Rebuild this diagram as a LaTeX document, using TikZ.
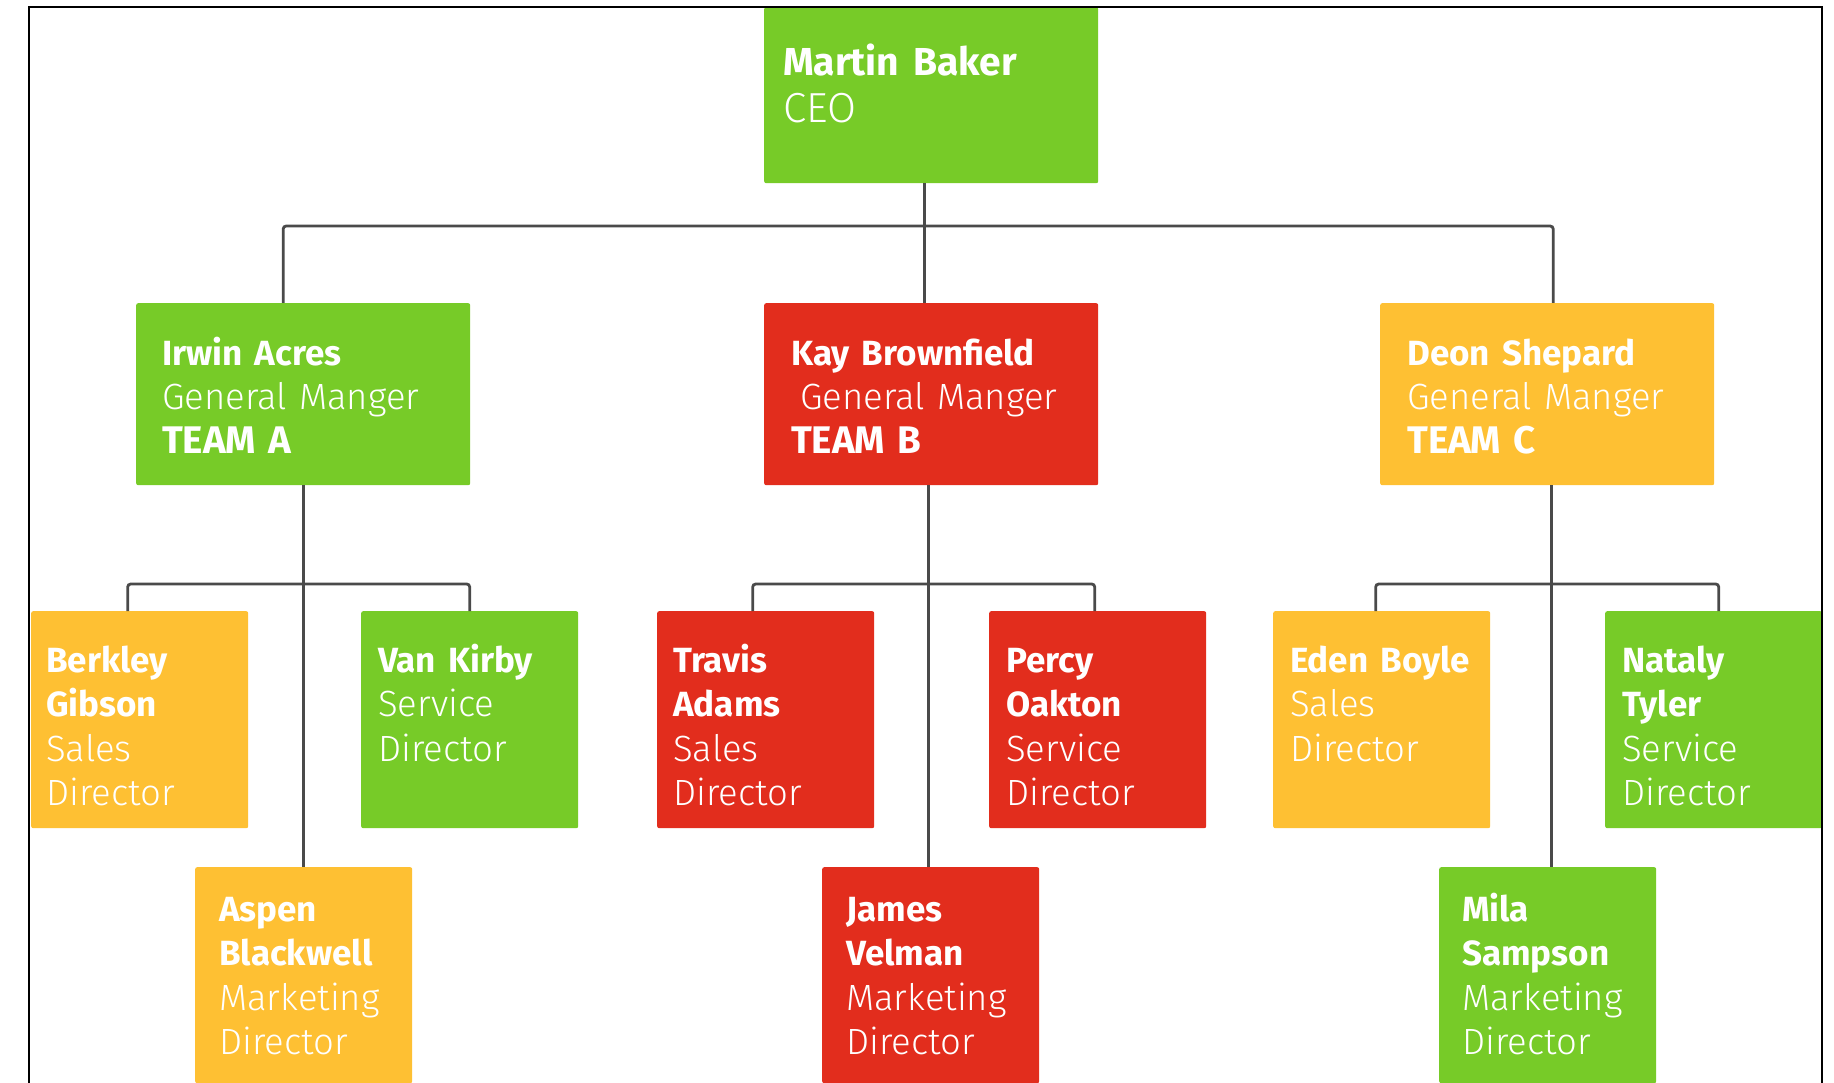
\documentclass[tikz,border=0pt]{standalone}
\usepackage{fontspec}
\setmainfont{Fira Sans}
\newfontfamily\lightf{Fira Sans Light}
\usetikzlibrary{positioning}
\definecolor{cgreen}{HTML}{77CB28}
\definecolor{cred}{HTML}{E22D1D}
\definecolor{cyellow}{HTML}{FEC033}
\definecolor{cline}{HTML}{4A4A4A}
\newcommand\nm[1]{{\normalfont\bfseries\fontsize{35}{44.5}\selectfont #1}}
\newcommand\tm[1]{{\normalfont\bfseries\fontsize{38.5}{44.5}\selectfont #1}}
\tikzset{
  box/.style={draw=none, rounded corners=2pt, inner sep=0pt, anchor=north west},
  lvla/.style={box, minimum width=334pt, minimum height=176pt},
  lvlb/.style={box, minimum width=334pt, minimum height=182pt},
  lvlc/.style={box, minimum width=217pt, minimum height=217pt},
  lvld/.style={box, minimum width=217pt, minimum height=216pt},
  txt/.style={anchor=base west, inner sep=0pt, align=left, text width=320pt, text=white,
    font=\lightf\fontsize{36.5}{44.5}\selectfont},
  bigtxt/.style={txt, font=\lightf\fontsize{42}{47}\selectfont},
  conn/.style={draw=cline, line width=2.8pt, rounded corners=3pt},
}
\begin{document}
\begin{tikzpicture}[x=1pt, y=-1pt]
\useasboundingbox (0,0) rectangle (1834,1083);
% boxes
\node[lvla, fill=cgreen] (ceo) at (764,7) {};
\node[lvlb, fill=cgreen] (irwin) at (136,303) {};
\node[lvlb, fill=cred] (kay) at (764,303) {};
\node[lvlb, fill=cyellow] (deon) at (1380,303) {};
\node[lvlc, fill=cyellow] (berkley) at (31,611) {};
\node[lvlc, fill=cgreen] (vankirby) at (361,611) {};
\node[lvlc, fill=cred] (travis) at (657,611) {};
\node[lvlc, fill=cred] (percy) at (989,611) {};
\node[lvlc, fill=cyellow] (eden) at (1273,611) {};
\node[lvlc, fill=cgreen] (nataly) at (1605,611) {};
\node[lvld, fill=cyellow] (aspen) at (195,867) {};
\node[lvld, fill=cred] (james) at (822,867) {};
\node[lvld, fill=cgreen] (mila) at (1439,867) {};
% texts
\node[bigtxt] (tceo) at (783,76) {{\normalfont\bfseries\fontsize{39}{47}\selectfont Martin Baker}\\CEO};
\node[txt] (tirwin) at (162,365) {\nm{Irwin Acres}\\General Manger\\\tm{TEAM A}};
\node[txt] (tkay) at (791,365) {\nm{Kay Brownfield}\\\hspace*{9pt}General Manger\\\tm{TEAM B}};
\node[txt] (tdeon) at (1407,365) {\nm{Deon Shepard}\\General Manger\\\tm{TEAM C}};
\node[txt] (tberkley) at (46,672) {\nm{Berkley}\\\nm{Gibson}\\Sales\\Director};
\node[txt] (tvankirby) at (378,672) {\nm{Van Kirby}\\Service\\Director};
\node[txt] (ttravis) at (673,672) {\nm{Travis}\\\nm{Adams}\\Sales\\Director};
\node[txt] (tpercy) at (1006,672) {\nm{Percy}\\\nm{Oakton}\\Service\\Director};
\node[txt] (teden) at (1290,672) {\nm{Eden Boyle}\\Sales\\Director};
\node[txt] (tnataly) at (1622,672) {\nm{Nataly}\\\nm{Tyler}\\Service\\Director};
\node[txt] (taspen) at (219,921) {\nm{Aspen}\\\nm{Blackwell}\\Marketing\\Director};
\node[txt] (tjames) at (846,921) {\nm{James}\\\nm{Velman}\\Marketing\\Director};
\node[txt] (tmila) at (1462,921) {\nm{Mila}\\\nm{Sampson}\\Marketing\\Director};
% connectors
\draw[conn] ([xshift=-20pt]irwin.north) -- ++(0,-77) -| ([xshift=6pt]deon.north);
\draw[conn] ([xshift=-7pt]ceo.south) -- ([xshift=-7pt]ceo.south |- kay.north);
\draw[conn] (irwin.south) -- (irwin.south |- aspen.north);
\draw[conn] ([xshift=-12pt]berkley.north) -- ++(0,-27) -| (vankirby.north);
\draw[conn] ([xshift=-3pt]kay.south) -- ([xshift=-3pt]kay.south |- james.north);
\draw[conn] ([xshift=-13pt]travis.north) -- ++(0,-27) -| ([xshift=-3pt]percy.north);
\draw[conn] ([xshift=4pt]deon.south) -- ([xshift=4pt]deon.south |- mila.north);
\draw[conn] ([xshift=-6pt]eden.north) -- ++(0,-27) -| ([xshift=5pt]nataly.north);
% frame
\draw[line width=1.6pt, black] (29,1083) -- (29,7) -- (1822,7) -- (1822,1083);
\end{tikzpicture}
\end{document}
